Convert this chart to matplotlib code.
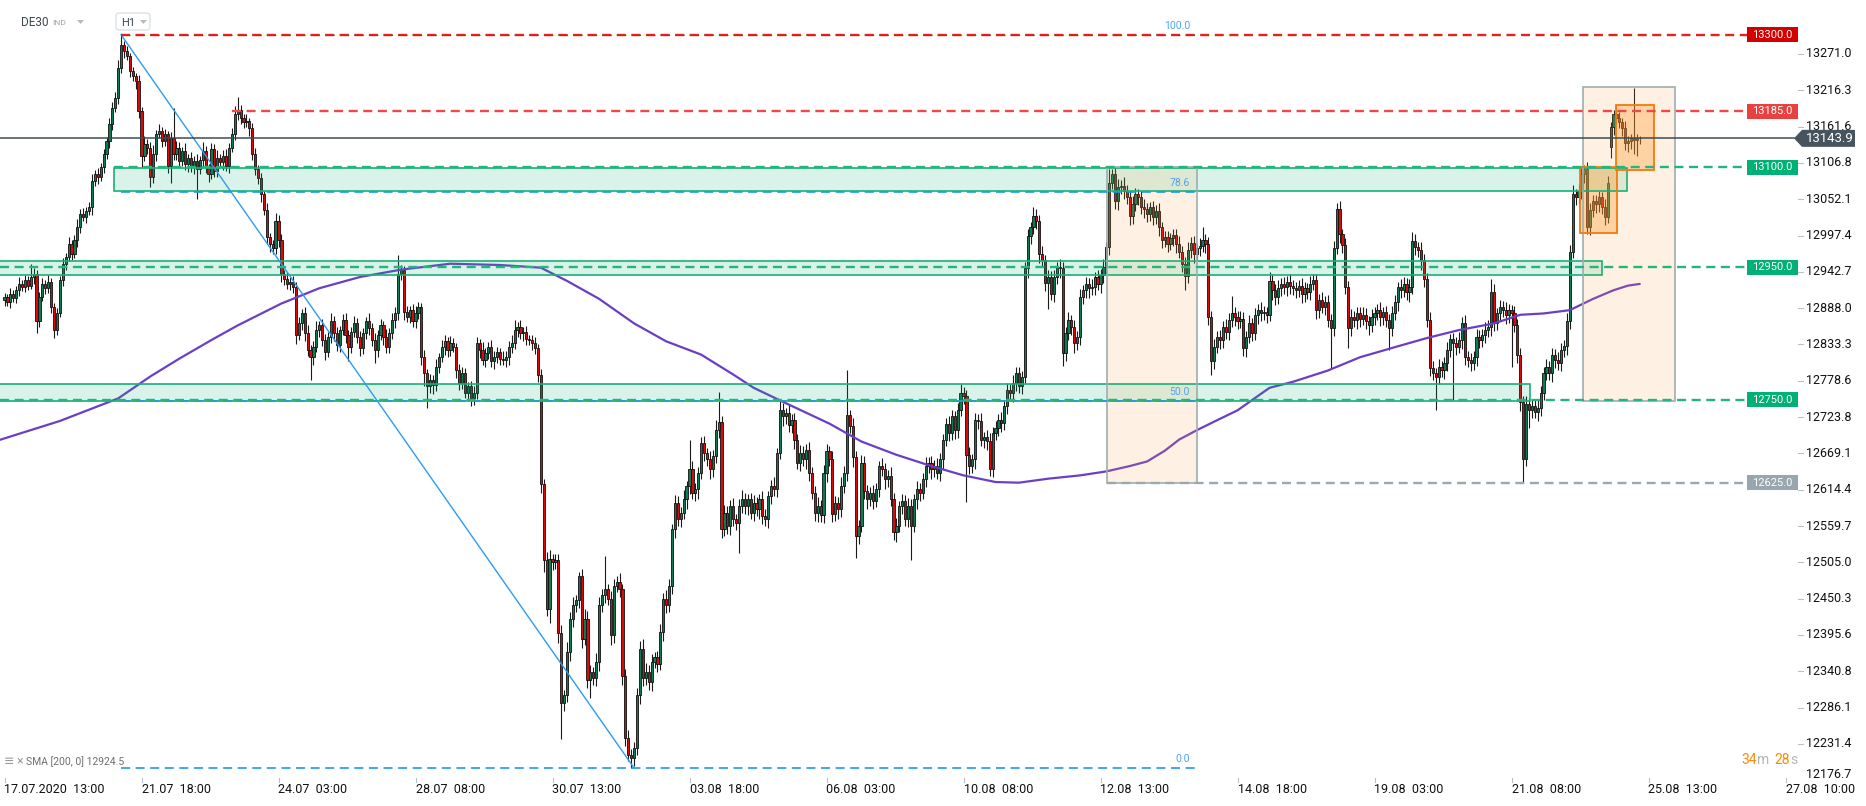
import numpy as np
import matplotlib.pyplot as plt
from matplotlib.patches import Rectangle, Polygon, FancyBboxPatch

plt.rcParams['font.family'] = ['Roboto', 'DejaVu Sans']
plt.rcParams['lines.scale_dashes'] = False

# -------------------------------
# DATA (DE30, H1 candles)
# -------------------------------
first_open = 12900
gap_opens = {551: 13131}

closes = [
    12905, 12898, 12910, 12903, 12915, 12925, 12920, 12930, 12922, 12935, 12940, 12868, 12905, 12925, 12918, 12928, 12890, 12855, 12880, 12930,
    12955, 12965, 12985, 12970, 12990, 13010, 13030, 13025, 13035, 13040, 13080, 13090, 13085, 13100, 13120, 13140, 13165, 13190, 13205, 13250,
    13285, 13275, 13268, 13245, 13238, 13230, 13185, 13118, 13135, 13130, 13085, 13120, 13150, 13155, 13140, 13150, 13102, 13145, 13120, 13130,
    13110, 13125, 13105, 13115, 13100, 13110, 13098, 13112, 13125, 13100, 13090, 13128, 13095, 13115, 13108, 13118, 13102, 13130, 13150, 13180,
    13186, 13175, 13168, 13170, 13160, 13120, 13098, 13084, 13060, 13036, 12995, 12985, 12978, 13020, 12990, 12940, 12932, 12925, 12928, 12920,
    12848, 12865, 12880, 12850, 12825, 12815, 12830, 12855, 12862, 12840, 12822, 12845, 12868, 12850, 12832, 12855, 12870, 12848, 12830, 12852,
    12866, 12845, 12828, 12850, 12868, 12858, 12840, 12825, 12848, 12862, 12845, 12830, 12850, 12870, 12880, 12940, 12945, 12882, 12875, 12885,
    12868, 12880, 12890, 12815, 12790, 12770, 12780, 12772, 12800, 12815, 12830, 12838, 12825, 12835, 12830, 12795, 12775, 12790, 12760, 12770,
    12752, 12760, 12835, 12825, 12810, 12820, 12830, 12808, 12815, 12822, 12812, 12810, 12815, 12830, 12835, 12855, 12860, 12850, 12852, 12842,
    12840, 12835, 12828, 12788, 12623, 12509, 12434, 12510, 12505, 12508, 12398, 12293, 12305, 12370, 12420, 12440, 12448, 12485, 12390, 12420,
    12328, 12340, 12330, 12355, 12440, 12455, 12465, 12450, 12395, 12470, 12475, 12465, 12334, 12240, 12215, 12210, 12225, 12305, 12375, 12330,
    12340, 12325, 12355, 12362, 12352, 12400, 12450, 12440, 12470, 12555, 12595, 12570, 12580, 12600, 12620, 12645, 12610, 12615, 12640, 12685,
    12670, 12660, 12645, 12665, 12705, 12717, 12555, 12580, 12560, 12590, 12570, 12565, 12590, 12600, 12590, 12600, 12580, 12595, 12585, 12600,
    12575, 12570, 12605, 12620, 12615, 12670, 12735, 12725, 12730, 12712, 12720, 12690, 12655, 12670, 12660, 12675, 12640, 12610, 12580, 12590,
    12576, 12640, 12673, 12660, 12578, 12595, 12585, 12620, 12640, 12727, 12710, 12663, 12545, 12560, 12655, 12613, 12600, 12610, 12598, 12615,
    12650, 12645, 12630, 12635, 12600, 12550, 12560, 12590, 12598, 12570, 12590, 12560, 12600, 12615, 12610, 12630, 12650, 12655, 12645, 12650,
    12640, 12660, 12690, 12714, 12700, 12725, 12705, 12735, 12760, 12755, 12667, 12650, 12660, 12720, 12718, 12690, 12694, 12688, 12645, 12700,
    12708, 12720, 12715, 12740, 12765, 12760, 12775, 12790, 12770, 12785, 12948, 12996, 13010, 13027, 13020, 12970, 12960, 12926, 12935, 12910,
    12935, 12950, 12948, 12821, 12850, 12870, 12860, 12835, 12845, 12905, 12915, 12925, 12918, 12920, 12935, 12925, 12938, 12950, 12980, 13077,
    13090, 13050, 13070, 13072, 13065, 13055, 13027, 13045, 13060, 13055, 13040, 13038, 13030, 13040, 13025, 13035, 13010, 12990, 12995, 12985,
    12993, 12998, 12985, 12973, 12955, 12936, 12975, 12986, 12970, 12978, 12982, 12990, 12985, 12875, 12808, 12830, 12845, 12840, 12860, 12852,
    12870, 12880, 12875, 12868, 12872, 12828, 12845, 12865, 12850, 12878, 12885, 12880, 12882, 12878, 12929, 12915, 12905, 12918, 12925, 12920,
    12928, 12922, 12918, 12915, 12922, 12910, 12918, 12912, 12925, 12930, 12885, 12900, 12890, 12898, 12870, 12858, 12979, 13037, 13000, 12983,
    12920, 12858, 12875, 12870, 12880, 12872, 12878, 12868, 12862, 12875, 12880, 12885, 12875, 12882, 12870, 12858, 12880, 12898, 12920, 12915,
    12925, 12912, 12920, 12989, 12980, 12975, 12960, 12932, 12870, 12798, 12790, 12785, 12800, 12795, 12805, 12825, 12841, 12835, 12830, 12840,
    12865, 12815, 12810, 12805, 12815, 12845, 12840, 12848, 12855, 12860, 12912, 12865, 12880, 12890, 12885, 12878, 12885, 12880, 12862, 12818,
    12747, 12660, 12744, 12735, 12740, 12732, 12738, 12760, 12791, 12800, 12790, 12818, 12810, 12805, 12825, 12831, 12868, 12973, 13060, 13055,
    13065, 13090, 13097, 13010, 13036, 13050, 13045, 13055, 13040, 13026, 13077, 13161, 13180, 13175, 13168, 13160, 13137, 13140, 13145, 13142,
    13144, 13143.9,
]

wick_up = [
    6, 4, 8, 5, 7, 10, 5, 8, 6, 20, 8, 5, 7, 9, 6, 10, 5, 6, 8, 7,
    9, 6, 10, 5, 8, 12, 7, 9, 6, 8, 10, 6, 9, 7, 8, 6, 10, 8, 9, 12,
    15, 6, 8, 5, 7, 4, 10, 6, 12, 8, 9, 14, 7, 10, 6, 8, 5, 9, 44, 10,
    8, 6, 12, 5, 9, 7, 10, 6, 14, 8, 5, 9, 7, 11, 6, 8, 10, 7, 9, 12,
    20, 8, 6, 10, 5, 7, 9, 6, 8, 5, 10, 7, 6, 12, 8, 9, 6, 10, 7, 8,
    8, 10, 6, 9, 12, 7, 8, 14, 6, 10, 9, 7, 12, 8, 10, 6, 9, 11, 7, 8,
    10, 7, 9, 8, 6, 12, 8, 10, 7, 9, 6, 11, 8, 10, 9, 28, 8, 6, 10, 7,
    9, 12, 8, 6, 10, 7, 9, 8, 12, 6, 10, 9, 7, 11, 8, 6, 9, 10, 8, 7,
    8, 10, 9, 6, 12, 8, 7, 10, 9, 8, 6, 11, 8, 9, 12, 15, 7, 10, 8, 9,
    6, 8, 10, 6, 9, 7, 12, 14, 8, 10, 9, 12, 8, 15, 10, 12, 8, 6, 10, 14,
    12, 10, 8, 14, 12, 10, 50, 8, 12, 10, 9, 14, 8, 10, 12, 8, 9, 10, 12, 15,
    14, 10, 12, 8, 10, 12, 9, 14, 10, 8, 12, 10, 9, 14, 8, 45, 12, 10, 8, 9,
    10, 8, 12, 9, 14, 44, 8, 12, 10, 9, 12, 8, 10, 14, 9, 8, 10, 12, 9, 8,
    12, 10, 8, 9, 14, 8, 16, 10, 8, 12, 9, 10, 8, 12, 10, 9, 12, 8, 10, 14,
    9, 12, 10, 8, 12, 10, 9, 14, 10, 68, 8, 12, 10, 9, 12, 10, 8, 9, 12, 10,
    8, 12, 10, 9, 14, 10, 12, 8, 10, 9, 12, 10, 8, 12, 9, 10, 14, 8, 10, 9,
    12, 10, 8, 9, 12, 10, 8, 10, 13, 9, 10, 12, 8, 10, 9, 12, 8, 10, 12, 9,
    10, 8, 12, 9, 10, 8, 12, 9, 10, 8, 9, 12, 8, 13, 10, 9, 12, 8, 10, 9,
    10, 8, 12, 9, 10, 12, 8, 10, 9, 12, 8, 10, 9, 12, 8, 10, 9, 12, 8, 20,
    7, 10, 12, 9, 14, 8, 10, 12, 9, 8, 10, 12, 9, 8, 10, 9, 12, 8, 10, 9,
    8, 10, 9, 12, 8, 10, 12, 9, 10, 8, 12, 20, 9, 10, 8, 12, 9, 10, 8, 12,
    10, 26, 9, 8, 12, 10, 9, 12, 8, 10, 9, 12, 10, 8, 14, 10, 9, 12, 8, 10,
    9, 12, 8, 10, 9, 12, 10, 8, 12, 10, 9, 10, 12, 8, 10, 9, 10, 10, 12, 8,
    10, 9, 12, 8, 10, 9, 12, 10, 8, 12, 10, 9, 12, 8, 10, 9, 12, 10, 8, 12,
    10, 9, 12, 14, 10, 8, 12, 10, 9, 12, 10, 8, 12, 9, 10, 12, 8, 10, 9, 12,
    10, 12, 9, 10, 8, 12, 10, 9, 12, 10, 20, 12, 8, 10, 9, 12, 10, 8, 12, 9,
    10, 9, 12, 8, 10, 9, 12, 10, 8, 12, 9, 10, 8, 12, 10, 9, 12, 10, 14, 8,
    10, 9, 7, 12, 10, 8, 9, 10, 8, 12, 10, 8, 6, 11, 8, 6, 10, 8, 6, 75,
    6, 4,
]

wick_dn = [
    8, 6, 10, 5, 7, 9, 6, 8, 7, 5, 10, 17, 8, 6, 9, 7, 10, 12, 8, 6,
    8, 10, 6, 9, 7, 10, 8, 6, 9, 7, 12, 8, 10, 6, 9, 7, 10, 8, 6, 9,
    8, 10, 6, 9, 7, 12, 10, 18, 8, 9, 15, 8, 10, 6, 9, 7, 10, 26, 8, 9,
    10, 8, 9, 12, 7, 10, 45, 8, 10, 9, 12, 8, 10, 9, 7, 12, 8, 10, 6, 9,
    8, 10, 9, 7, 12, 8, 10, 9, 12, 8, 10, 12, 9, 8, 10, 12, 9, 8, 10, 9,
    14, 8, 10, 12, 9, 35, 12, 8, 10, 9, 12, 8, 10, 12, 9, 10, 8, 12, 22, 9,
    8, 10, 12, 9, 8, 10, 9, 20, 10, 8, 12, 9, 10, 8, 12, 10, 9, 12, 8, 10,
    9, 10, 8, 12, 20, 33, 10, 14, 9, 10, 8, 12, 10, 9, 8, 12, 10, 9, 8, 10,
    11, 10, 9, 12, 8, 10, 9, 8, 12, 10, 9, 8, 10, 12, 9, 8, 10, 9, 12, 10,
    8, 10, 9, 12, 14, 18, 10, 20, 12, 10, 14, 54, 12, 10, 14, 12, 10, 12, 14, 10,
    12, 28, 10, 12, 14, 10, 12, 10, 14, 12, 10, 12, 14, 12, 10, 15, 12, 10, 14, 12,
    10, 12, 14, 10, 12, 10, 14, 12, 10, 12, 14, 10, 12, 10, 14, 12, 10, 12, 14, 10,
    12, 10, 14, 12, 10, 12, 13, 10, 12, 14, 10, 12, 46, 10, 12, 14, 10, 12, 10, 14,
    12, 10, 14, 12, 10, 12, 10, 14, 12, 10, 12, 14, 10, 12, 10, 14, 12, 10, 12, 14,
    10, 12, 14, 10, 12, 10, 14, 12, 10, 12, 10, 14, 33, 12, 10, 12, 14, 10, 12, 10,
    12, 10, 14, 12, 10, 12, 14, 10, 12, 10, 12, 51, 10, 14, 12, 10, 12, 10, 14, 12,
    10, 12, 14, 10, 12, 10, 14, 12, 10, 12, 71, 12, 10, 14, 12, 10, 12, 14, 10, 12,
    10, 12, 14, 10, 12, 10, 14, 12, 10, 12, 10, 14, 12, 10, 12, 14, 10, 12, 40, 10,
    12, 10, 14, 20, 12, 10, 12, 14, 10, 12, 10, 12, 14, 10, 12, 10, 14, 12, 10, 12,
    10, 12, 14, 10, 12, 10, 14, 12, 10, 12, 10, 14, 12, 10, 12, 10, 14, 12, 10, 12,
    10, 12, 14, 10, 12, 20, 10, 12, 14, 10, 12, 10, 14, 12, 20, 12, 10, 14, 12, 10,
    12, 10, 14, 12, 10, 12, 14, 10, 12, 10, 14, 12, 10, 12, 10, 14, 12, 10, 12, 10,
    14, 12, 10, 12, 10, 14, 12, 10, 12, 10, 14, 12, 10, 12, 10, 60, 12, 10, 14, 12,
    10, 30, 12, 10, 14, 12, 10, 12, 14, 10, 12, 10, 14, 12, 10, 33, 12, 10, 14, 12,
    10, 12, 14, 10, 12, 10, 14, 12, 10, 12, 10, 50, 12, 10, 14, 12, 10, 85, 12, 10,
    14, 12, 10, 12, 10, 14, 12, 10, 12, 10, 14, 12, 10, 12, 10, 14, 12, 80, 10, 12,
    14, 34, 10, 28, 12, 10, 14, 12, 10, 12, 10, 14, 12, 10, 12, 10, 14, 12, 10, 12,
    10, 12, 14, 10, 12, 10, 14, 12, 10, 12, 10, 17, 12, 10, 8, 12, 10, 14, 12, 22,
    25, 8,
]

# SMA(200) read at a few bar positions
sma_bar = [-2, 19, 39, 50, 60, 71, 80, 95, 108, 122, 136, 153, 170, 184, 193, 204, 216, 227, 239, 250,
           257, 267, 283, 294, 306, 318, 329, 340, 348, 358, 369, 378, 386, 392, 398, 403, 409, 415, 423,
           434, 442, 454, 465, 476, 488, 499, 511, 520, 528, 537, 545, 552, 557, 561]
sma_val = [12689, 12718, 12752, 12785, 12812, 12840, 12862, 12895, 12918, 12935, 12946, 12955, 12953,
           12949, 12929, 12902, 12865, 12838, 12818, 12788, 12768, 12747, 12714, 12687, 12667, 12650,
           12636, 12626, 12625, 12631, 12636, 12642, 12650, 12657, 12673, 12690, 12704, 12717, 12734,
           12768, 12777, 12794, 12814, 12828, 12843, 12855, 12865, 12878, 12880, 12885, 12902, 12915,
           12922, 12924.5]

price_ticks = [13271.0, 13216.3, 13161.6, 13106.8, 13052.1, 12997.4, 12942.7, 12888.0, 12833.3,
               12778.6, 12723.8, 12669.1, 12614.4, 12559.7, 12505.0, 12450.3, 12395.6, 12340.8,
               12286.1, 12231.4]
bottom_tick = 12176.7
date_labels = ['17.07.2020  13:00', '21.07  18:00', '24.07  03:00', '28.07  08:00', '30.07  13:00',
               '03.08  18:00', '06.08  03:00', '10.08  08:00', '12.08  13:00', '14.08  18:00',
               '19.08  03:00', '21.08  08:00', '25.08  13:00', '27.08  10:00']
bars_per_label = 47

last_price = 13143.9
fib_high, fib_low = 13300.0, 12195.0
fib_levels = [1.0, 0.786, 0.5, 0.0]
fib_names = ['100.0', '78.6', '50.0', '0.0']

# -------------------------------
# FIGURE / pixel mapping
# -------------------------------
W, H = 1866, 806
fig = plt.figure(figsize=(W / 100, H / 100), dpi=100)
ax = fig.add_axes([0, 0, 1, 1])
ax.axis('off')

BAR0, STEP = 4.5, 137 / bars_per_label      # pixel x of bar 0, pixels per bar
P54, PPX = 13271.0, 0.6636                  # price at pixel row 54, pixels per point


def bx(px):
    return (px - BAR0) / STEP


def pp(py):
    return P54 - (py - 54) / PPX


ax.set_xlim(bx(0), bx(W))
ax.set_ylim(pp(H), pp(0))

# -------------------------------
# CANDLES
# -------------------------------
c = np.array(closes, dtype=float)
o = np.r_[first_open, c[:-1]]
for k, v in gap_opens.items():
    o[k] = v
hi = np.maximum(o, c) + np.array(wick_up)
lo = np.minimum(o, c) - np.array(wick_dn)
idx = np.arange(len(c))
up = c >= o
cols = np.where(up, '#0e7a52', '#d60a0a')

ax.vlines(idx, lo, hi, color='#1a1a1a', lw=0.8, zorder=2)
ax.bar(idx, np.maximum(np.abs(c - o), 1.2), bottom=np.minimum(o, c), width=0.75,
       color=cols, edgecolor='#111111', linewidth=0.6, zorder=3)

# SMA 200
ax.plot(sma_bar, sma_val, color='#6b3fc4', lw=1.6, zorder=4, solid_capstyle='round',
        solid_joinstyle='round')

# -------------------------------
# ZONES AND BOXES (drawn over the candles)
# -------------------------------
zones = [(bx(114), bx(1627), 13065, 13099),
         (bx(-2), bx(1602), 12938, 12959),
         (bx(-2), bx(1530), 12748, 12774)]
for x0, x1, y0, y1 in zones:
    ax.add_patch(Rectangle((x0, y0), x1 - x0, y1 - y0, facecolor='#00b074', alpha=0.15,
                           edgecolor='none', zorder=5))
    ax.add_patch(Rectangle((x0, y0), x1 - x0, y1 - y0, fill=False, edgecolor='#1aaf78',
                           lw=1.2, zorder=6))

for x0, x1, y0, y1 in [(bx(1107), bx(1197), 12625, 13100), (bx(1583), bx(1675), 12748, 13221)]:
    ax.add_patch(Rectangle((x0, y0), x1 - x0, y1 - y0, facecolor='#f9a23c', alpha=0.14,
                           edgecolor='none', zorder=5))
    ax.add_patch(Rectangle((x0, y0), x1 - x0, y1 - y0, fill=False, edgecolor='#9fadb3',
                           lw=1.2, zorder=6))

for x0, x1, y0, y1 in [(bx(1580), bx(1617), 13001, 13100), (bx(1616), bx(1654), 13096, 13194)]:
    ax.add_patch(Rectangle((x0, y0), x1 - x0, y1 - y0, facecolor='#ff9a2e', alpha=0.35,
                           edgecolor='none', zorder=5))
    ax.add_patch(Rectangle((x0, y0), x1 - x0, y1 - y0, fill=False, edgecolor='#f47a0c',
                           lw=1.3, zorder=6))

# -------------------------------
# FIBONACCI + TREND LINE
# -------------------------------
fx0, fx1 = 40, bx(1198)
for lev, name in zip(fib_levels, fib_names):
    p = fib_low + lev * (fib_high - fib_low)
    ax.plot([fx0, fx1], [p, p], color='#2196f3', lw=1.2, ls=(0, (6.5, 4)), zorder=7)
    ax.text(bx(1190), p + 9 / PPX, name, color='#4da3ec', fontsize=7.5,
            ha='right', va='center', zorder=8)
ax.plot([40, 216], [fib_high, fib_low], color='#2c9cf2', lw=1.0, zorder=7)

# -------------------------------
# HORIZONTAL LEVELS + TAGS
# -------------------------------
x_end = bx(1747)
levels = [
    (13300.0, 40, '#e3241e', '#d40000'),
    (13185.0, bx(232), '#ef4848', '#e84141'),
    (13100.0, bx(114), '#23b57e', '#00b074'),
    (12950.0, bx(0), '#23b57e', '#00b074'),
    (12750.0, bx(0), '#23b57e', '#00b074'),
    (12625.0, bx(1107), '#9aa8b0', '#98a6ad'),
]
for p, xs, lc, tc in levels:
    ax.plot([xs, x_end], [p, p], color=lc, lw=1.7, ls=(0, (6.5, 4)), zorder=7)
    ax.add_patch(Rectangle((bx(1747), p - 7.5 / PPX), bx(1798) - bx(1747), 15 / PPX,
                           facecolor=tc, edgecolor='none', zorder=9))
    ax.text(bx(1772.5), p, f'{p:.1f}', color='white', fontsize=8, ha='center',
            va='center', zorder=10)
# blue fib line sits on top of the red 13300 line
ax.plot([fx0, fx1], [fib_high, fib_high], color='#3050d0', lw=0.7, ls=(0, (6.5, 4)), zorder=8)

# current price line + tag
ax.plot([bx(0), bx(1794)], [last_price, last_price], color='#3e4b54', lw=1.1, zorder=7)
tag = [(bx(1794), last_price), (bx(1802), last_price + 8.5 / PPX), (bx(1855), last_price + 8.5 / PPX),
       (bx(1855), last_price - 8.5 / PPX), (bx(1802), last_price - 8.5 / PPX)]
ax.add_patch(Polygon(tag, closed=True, facecolor='#47545e', edgecolor='none', zorder=11))
ax.text(bx(1806), last_price, f'{last_price:.1f}', color='white', fontsize=9.5,
        ha='left', va='center', zorder=12)

# -------------------------------
# AXES LABELS
# -------------------------------
for p in price_ticks:
    ax.plot([bx(1798), bx(1803)], [p, p], color='#b9c2c8', lw=0.8, zorder=8)
    ax.text(bx(1806), p, f'{p:.1f}', color='#111111', fontsize=9, ha='left', va='center', zorder=8)
# lowest price label sits just above the time axis
ax.text(bx(1806), pp(774), f'{bottom_tick:.1f}', color='#111111', fontsize=9, ha='left', va='center')

yl = pp(790)
for k, lab in enumerate(date_labels):
    b = k * bars_per_label
    ax.plot([b, b], [pp(778), pp(782)], color='#b9c2c8', lw=0.8)
    ax.text(b, yl, lab, color='#111111', fontsize=9, ha='left', va='center')

# timer
for txt, px, col in [('34', 1741, '#ff8a00'), ('m', 1757, '#b4b4b4'), ('28', 1774, '#ff8a00'), ('s', 1790, '#b4b4b4')]:
    ax.text(bx(px), pp(760), txt, color=col, fontsize=10, ha='left', va='center', zorder=8)

# top-left instrument header
ax.text(bx(21), pp(23), 'DE30', color='#3a4750', fontsize=8.5, ha='left', va='center')
ax.text(bx(52), pp(23), 'IND', color='#9aa4ab', fontsize=6, ha='left', va='center')
ax.add_patch(Polygon([(bx(77), pp(20)), (bx(84), pp(20)), (bx(80.5), pp(24))], closed=True,
                     facecolor='#b5bdc3', edgecolor='none'))
ax.add_patch(FancyBboxPatch((bx(116), pp(30)), bx(150) - bx(116), pp(13) - pp(30),
                            boxstyle='round,pad=0,rounding_size=1.2', facecolor='white',
                            edgecolor='#d9dee2', lw=0.9, zorder=9, mutation_aspect=1 / PPX * STEP))
ax.text(bx(121), pp(23), 'H1', color='#3a4750', fontsize=8, ha='left', va='center', zorder=10)
ax.add_patch(Polygon([(bx(140), pp(20)), (bx(147), pp(20)), (bx(143.5), pp(24))], closed=True,
                     facecolor='#b5bdc3', edgecolor='none', zorder=10))

# bottom-left indicator legend
ax.text(bx(4), pp(761), '\u2261', color='#9a9a9a', fontsize=9, ha='left', va='center')
ax.text(bx(16), pp(761), '\u00d7', color='#9a9a9a', fontsize=9, ha='left', va='center')
ax.text(bx(26), pp(762), 'SMA [200, 0] 12924.5', color='#6f6f6f', fontsize=7.5, ha='left', va='center')

fig.savefig('out.png', dpi=100)
